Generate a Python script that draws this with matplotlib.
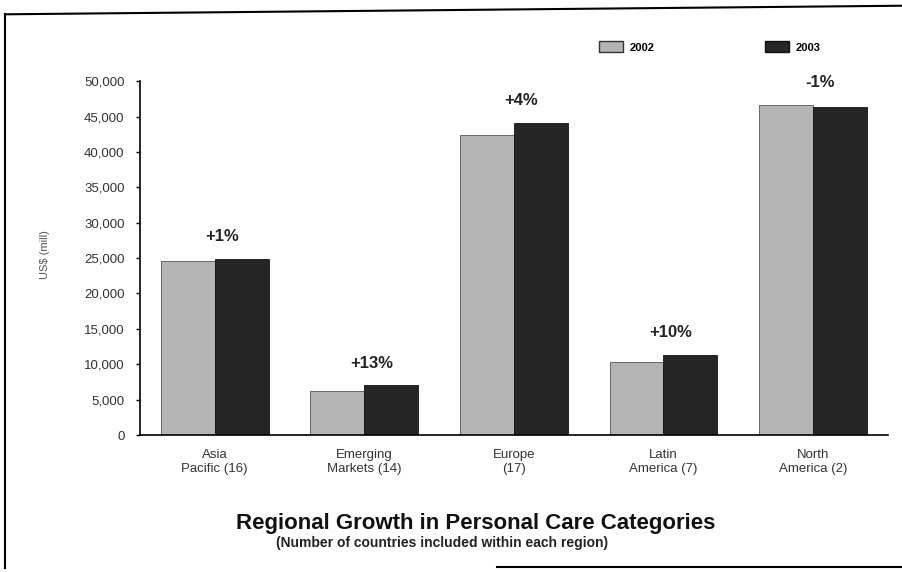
import matplotlib.pyplot as plt
import numpy as np
from matplotlib.lines import Line2D
from matplotlib.patches import Patch

plt.rcParams['font.family'] = ['Liberation Sans', 'DejaVu Sans']

# Sales by region, US$ million
regions = ["Asia\nPacific (16)", "Emerging\nMarkets (14)", "Europe\n(17)",
           "Latin\nAmerica (7)", "North\nAmerica (2)"]
sales_2002 = [24600, 6200, 42400, 10300, 46600]
sales_2003 = [24900, 7000, 44100, 11300, 46300]
growth = ["+1%", "+13%", "+4%", "+10%", "-1%"]

fig = plt.figure(figsize=(9.03, 5.72), dpi=100)
ax = fig.add_axes([0.155, 0.2395, 0.828, 0.6185])

x = np.arange(len(regions))
w = 0.36
ax.bar(x - w / 2, sales_2002, w, color="#b4b4b4", edgecolor="#555555", linewidth=0.6)
ax.bar(x + w / 2, sales_2003, w, color="#262626", edgecolor="#111111", linewidth=0.6)

# growth labels above each pair
for i in range(len(regions)):
    top = max(sales_2002[i], sales_2003[i])
    ax.text(x[i] + 0.05, top + 2100, growth[i], ha="center", va="bottom",
            fontsize=12, fontweight="bold", color="#222222")

ax.set_xlim(-0.5, len(regions) - 0.5)
ax.set_ylim(0, 50000)
ax.set_yticks(range(0, 50001, 5000))
ax.set_yticklabels([f"{v:,}" for v in range(0, 50001, 5000)])
ax.tick_params(axis="y", length=3, width=1, labelsize=9.5, labelcolor="#333333", pad=8)
ax.tick_params(axis="x", length=0, labelsize=9.5, labelcolor="#333333", pad=10)
ax.set_xticks(x)
ax.set_xticklabels(regions)
ax.spines["top"].set_visible(False)
ax.spines["right"].set_visible(False)
ax.spines["left"].set_linewidth(1.2)
ax.spines["bottom"].set_linewidth(1.2)

fig.text(0.05, 0.555, "US$ (mill)", rotation=90, ha="center", va="center",
         fontsize=8, color="#555555")

# legend
handles = [Patch(facecolor="#b4b4b4", edgecolor="#333333", label="2002"),
           Patch(facecolor="#262626", edgecolor="#111111", label="2003")]
fig.legend(handles=handles, loc="upper right", bbox_to_anchor=(0.92, 0.945), ncol=2,
           frameon=False, handlelength=2.2, handleheight=1.1,
           columnspacing=9.9, handletextpad=0.6, prop={"weight": "bold", "size": 8})

fig.text(0.527, 0.085, "Regional Growth in Personal Care Categories", ha="center",
         va="center", fontsize=16, fontweight="bold", color="#111111")
fig.text(0.49, 0.051, "(Number of countries included within each region)",
         ha="center", va="center", fontsize=10, fontweight="bold", color="#222222")

# page border
fig.add_artist(Line2D([0.006, 0.006], [0.007, 0.975], color="black", lw=1.5))
fig.add_artist(Line2D([0.006, 1.0], [0.975, 0.99], color="black", lw=1.5))
fig.add_artist(Line2D([0.55, 1.0], [0.008, 0.008], color="black", lw=1.5))

fig.savefig("out.png", dpi=100)
